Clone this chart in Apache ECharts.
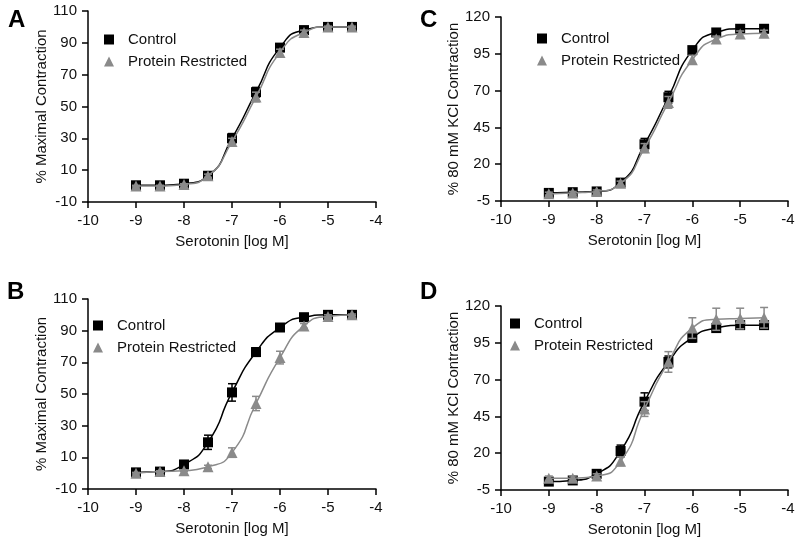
<!DOCTYPE html>
<html>
<head>
<meta charset="utf-8">
<script src="https://cdn.jsdelivr.net/npm/echarts@6/dist/echarts.min.js"></script>
<style>
  html, body { margin: 0; padding: 0; background: #fff; }
  #chart { width: 800px; height: 542px; }
</style>
</head>
<body>
<div id="chart"></div>
<script>
// log [serotonin] doses
const doses = [-9, -8.5, -8, -7.5, -7, -6.5, -6, -5.5, -5, -4.5];
const xTicks = [-10, -9, -8, -7, -6, -5, -4];

// panel A (% maximal contraction)
const ctrlA = [0.5, 0.5, 1.5, 6.5, 30, 59, 87, 98, 100, 100];
const ctrlAErr = [0.5, 0.5, 0.8, 1, 3, 3, 2, 1, 0.5, 0.5];
const prA = [0, 0, 1, 6.5, 28, 56, 84, 96.5, 100, 100];
const prAErr = [0.5, 0.5, 0.5, 1, 2, 3, 2, 1.5, 0.5, 0.5];

// panel B (% maximal contraction)
const ctrlB = [0.5, 1, 5.5, 19.5, 51, 76.5, 92, 98.5, 100, 100];
const ctrlBErr = [0.5, 0.5, 1, 4.5, 5.5, 2.7, 1, 1, 0.5, 0.5];
const prB = [0, 1, 1.5, 4, 13, 44, 73, 93, 99, 100];
const prBErr = [0.5, 0.5, 0.5, 1, 3, 4.5, 4, 1.5, 1, 0.5];

// panel C (% 80 mM KCl contraction)
const ctrlC = [0.5, 1, 1.5, 7.5, 33.5, 65.5, 97.5, 109.5, 112, 112];
const ctrlCErr = [1, 1, 1, 1.5, 4, 4, 2, 1.5, 1.5, 1.5];
const prC = [0, 0.5, 1.5, 7, 31, 62, 91, 105, 108.5, 109];
const prCErr = [1, 1, 1, 1.5, 3, 4, 3, 2, 2, 2];

// panel D (% 80 mM KCl contraction)
const ctrlD = [0.7, 1.5, 6, 21.5, 55, 82, 98.5, 105, 107, 107];
const ctrlDErr = [1, 1, 1.5, 4, 6, 4, 3, 2, 2, 2];
const prD = [3, 3, 4.5, 14.5, 50, 82, 105, 111, 111.5, 112];
const prDErr = [1.5, 1.5, 1.5, 3, 5, 7, 7, 7.5, 7, 7];

const yLabelMax = '% Maximal Contraction';
const yLabelKcl = '% 80 mM KCl Contraction';
const xLabel = 'Serotonin [log M]';

const BLACK = '#000000';
const GREY = '#8a8a8a';
const FONT = 'Liberation Sans, Arial, sans-serif';

const panels = [
  {letter: 'A', grid: {left: 88, top: 11, width: 288, height: 191}, y: [-10, 110, 20], name: yLabelMax,
    ctrl: ctrlA, ctrlErr: ctrlAErr, pr: prA, prErr: prAErr, legend: {left: 104, top: 32}, lt: {left: 8, top: 8}},
  {letter: 'C', grid: {left: 501, top: 17, width: 287, height: 184}, y: [-5, 120, 25], name: yLabelKcl,
    ctrl: ctrlC, ctrlErr: ctrlCErr, pr: prC, prErr: prCErr, legend: {left: 537, top: 31}, lt: {left: 420, top: 8}},
  {letter: 'B', grid: {left: 88, top: 299, width: 288, height: 190}, y: [-10, 110, 20], name: yLabelMax,
    ctrl: ctrlB, ctrlErr: ctrlBErr, pr: prB, prErr: prBErr, legend: {left: 93, top: 318}, lt: {left: 7, top: 280}},
  {letter: 'D', grid: {left: 501, top: 306, width: 287, height: 184}, y: [-5, 120, 25], name: yLabelKcl,
    ctrl: ctrlD, ctrlErr: ctrlDErr, pr: prD, prErr: prDErr, legend: {left: 510, top: 316}, lt: {left: 420, top: 280}},
];

const pairs = (ys) => doses.map((d, i) => [d, ys[i]]);
const errPairs = (ys, es) => doses.map((d, i) => [d, ys[i] - es[i], ys[i] + es[i]]);

// vertical error bar with caps
const renderErr = (color) => (params, api) => {
  const lo = api.coord([api.value(0), api.value(1)]);
  const hi = api.coord([api.value(0), api.value(2)]);
  const w = 4;
  const style = {stroke: color, lineWidth: 1.5};
  return {
    type: 'group',
    children: [
      {type: 'line', shape: {x1: lo[0], y1: lo[1], x2: hi[0], y2: hi[1]}, style},
      {type: 'line', shape: {x1: hi[0] - w, y1: hi[1], x2: hi[0] + w, y2: hi[1]}, style},
      {type: 'line', shape: {x1: lo[0] - w, y1: lo[1], x2: lo[0] + w, y2: lo[1]}, style},
    ],
  };
};

const grid = [], xAxis = [], yAxis = [], series = [], legend = [], title = [];

panels.forEach((p, k) => {
  grid.push(p.grid);
  title.push({text: p.letter, left: p.lt.left, top: p.lt.top, padding: 0,
    textStyle: {fontFamily: FONT, fontSize: 24, fontWeight: 'bold', color: BLACK}});
  xAxis.push({
    type: 'value', gridIndex: k, min: xTicks[0], max: xTicks[xTicks.length - 1], interval: 1,
    name: xLabel, nameLocation: 'middle', nameGap: 32,
    nameTextStyle: {fontFamily: FONT, fontSize: 15, color: '#111'},
    axisLine: {onZero: false, lineStyle: {color: BLACK, width: 1.5}},
    axisTick: {length: 6, lineStyle: {color: BLACK, width: 1.5}},
    axisLabel: {fontFamily: FONT, fontSize: 15, color: '#111', margin: 11},
    splitLine: {show: false},
  });
  yAxis.push({
    type: 'value', gridIndex: k, min: p.y[0], max: p.y[1], interval: p.y[2],
    name: p.name, nameLocation: 'middle', nameGap: 37, nameRotate: 90,
    nameTextStyle: {fontFamily: FONT, fontSize: 15, color: '#111'},
    axisLine: {show: true, onZero: false, lineStyle: {color: BLACK, width: 1.5}},
    axisTick: {show: true, length: 6, lineStyle: {color: BLACK, width: 1.5}},
    axisLabel: {fontFamily: FONT, fontSize: 15, color: '#111', margin: 11},
    splitLine: {show: false},
  });
  legend.push({
    orient: 'vertical', left: p.legend.left, top: p.legend.top, itemGap: 7,
    itemWidth: 10, itemHeight: 10, padding: 0,
    textStyle: {fontFamily: FONT, fontSize: 15, color: '#111', padding: [0, 0, 0, 9]},
    data: [{name: 'Control', icon: 'rect'}, {name: 'Protein Restricted', icon: 'triangle'}],
    selectedMode: false,
  });
  series.push(
    {type: 'custom', name: 'errC' + k, xAxisIndex: k, yAxisIndex: k, z: 3,
      renderItem: renderErr(BLACK), data: errPairs(p.ctrl, p.ctrlErr), silent: true},
    {type: 'line', name: 'Control', xAxisIndex: k, yAxisIndex: k, z: 4,
      data: pairs(p.ctrl), smooth: 0.6,
      symbol: 'rect', symbolSize: 10, color: BLACK,
      itemStyle: {color: BLACK}, lineStyle: {color: BLACK, width: 1.5}},
    {type: 'custom', name: 'errP' + k, xAxisIndex: k, yAxisIndex: k, z: 5,
      renderItem: renderErr(GREY), data: errPairs(p.pr, p.prErr), silent: true},
    {type: 'line', name: 'Protein Restricted', xAxisIndex: k, yAxisIndex: k, z: 6,
      data: pairs(p.pr), smooth: 0.6,
      symbol: 'triangle', symbolSize: 11, color: GREY,
      itemStyle: {color: GREY}, lineStyle: {color: GREY, width: 1.5}},
  );
});

const chartIns = echarts.init(document.getElementById('chart'));
chartIns.setOption({
  animation: false,
  backgroundColor: '#fff',
  title, grid, xAxis, yAxis, legend, series,
});
window.addEventListener('resize', chartIns.resize);
</script>
</body>
</html>
